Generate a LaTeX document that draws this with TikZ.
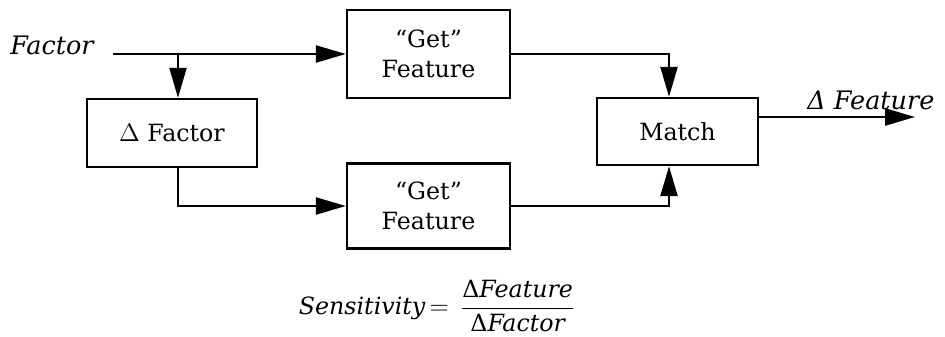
\documentclass[tikz,border=0pt]{standalone}
\usepackage{fontspec}
\setmainfont{DejaVu Serif}
\usetikzlibrary{arrows.meta,positioning}
\tikzset{blockbox/.style={draw,line width=1.4pt,align=center,inner sep=0pt,font=\fontsize{13.5}{17}\selectfont},
  flow/.style={line width=1.4pt,-{Triangle[length=0.6cm,width=0.34cm]}},
  sidelabel/.style={font=\fontsize{14.5}{17}\selectfont\itshape,inner sep=0pt}}
\begin{document}
\begin{tikzpicture}[x=0.02cm,y=-0.02cm]
   \useasboundingbox (0,0) rectangle (945,337);
   \node[blockbox,minimum width=3.26cm,minimum height=1.76cm] (gettop) at (428.5,54) {“Get”\\Feature};
   \node[blockbox,minimum width=3.26cm,minimum height=1.7cm] (getbot) at (428.5,206) {“Get”\\Feature};
   \node[blockbox,minimum width=3.4cm,minimum height=1.36cm] (dfactor) at (172,133) {$\Delta$ Factor};
   \node[blockbox,minimum width=3.22cm,minimum height=1.34cm] (match) at (677.5,131.5) {Match};
   \node[sidelabel,anchor=west] (factor) at (10,45) {Factor};
   \node[sidelabel,anchor=west] (dfeature) at (807,100) {Δ Feature};
   \coordinate (in) at (113,54);
   \coordinate (split) at (178,54);
   \coordinate (out) at (915,117);
   \draw[flow] (in) -- (gettop.west);
   \draw[flow] (split) -- (split |- dfactor.north);
   \draw[flow] (split |- dfactor.south) |- (getbot.west);
   \draw[flow] (gettop.east) -| ([xshift=-0.17cm]match.north);
   \draw[flow] (getbot.east) -| ([xshift=-0.17cm]match.south);
   \draw[flow] (match.east |- out) -- (out);
   \node[font=\fontsize{13.5}{17}\selectfont] (sens) at (437,306)
     {\textit{Sensitivity}$\,=\,\displaystyle\frac{\textrm{Δ}\textit{Feature}}{\textrm{Δ}\textit{Factor}}$};
\end{tikzpicture}
\end{document}
